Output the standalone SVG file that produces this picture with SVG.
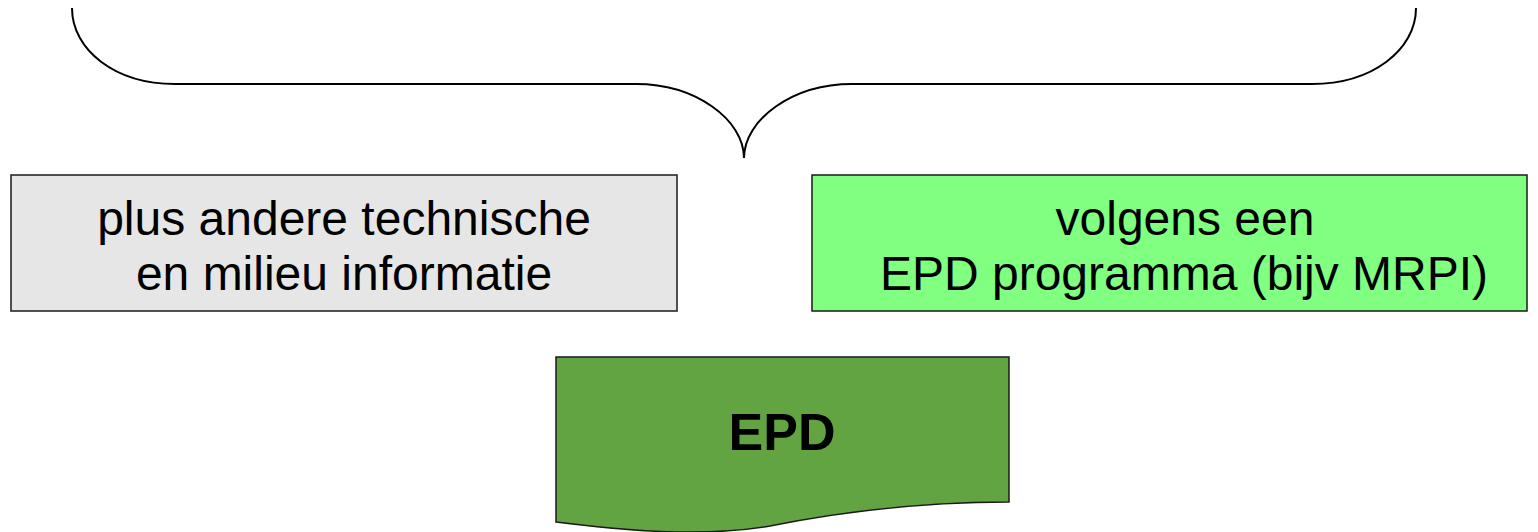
<svg xmlns="http://www.w3.org/2000/svg" width="1538" height="532" viewBox="0 0 1538 532">
<style>
.box{stroke:#1a1a1a;stroke-width:1.5}
.t{font-family:"Liberation Sans",Arial,sans-serif;font-size:48px;fill:#000;text-anchor:middle}
.b{font-family:"Liberation Sans",Arial,sans-serif;font-size:52px;font-weight:bold;fill:#000;text-anchor:middle}
.brace{fill:none;stroke:#000;stroke-width:2}
</style>
<rect width="1538" height="532" fill="#fff"/>
<g id="connectors">
<path class="brace" d="M72,8 C72,50 115,84 175,84 H636 C696,84 744,120 744,158 C744,120 792,84 852,84 H1312 C1372,84 1416,50 1416,8"/>
</g>
<g id="node-info">
<rect class="box" x="11" y="175" width="666" height="136" fill="#e6e6e6"/>
<text class="t" x="344" y="235">plus andere technische</text>
<text class="t" x="344" y="290">en milieu informatie</text>
</g>
<g id="node-programma">
<rect class="box" x="812" y="175" width="715" height="136" fill="#80ff80"/>
<text class="t" x="1185" y="235">volgens een</text>
<text class="t" x="1184" y="290">EPD programma (bijv MRPI)</text>
</g>
<g id="node-epd">
<path class="box" d="M556,357 H1009 V502 C910,502 830,514 770,526 C700,538 620,530 556,522 Z" fill="#62a442"/>
<text class="b" x="782" y="450">EPD</text>
</g>
</svg>
